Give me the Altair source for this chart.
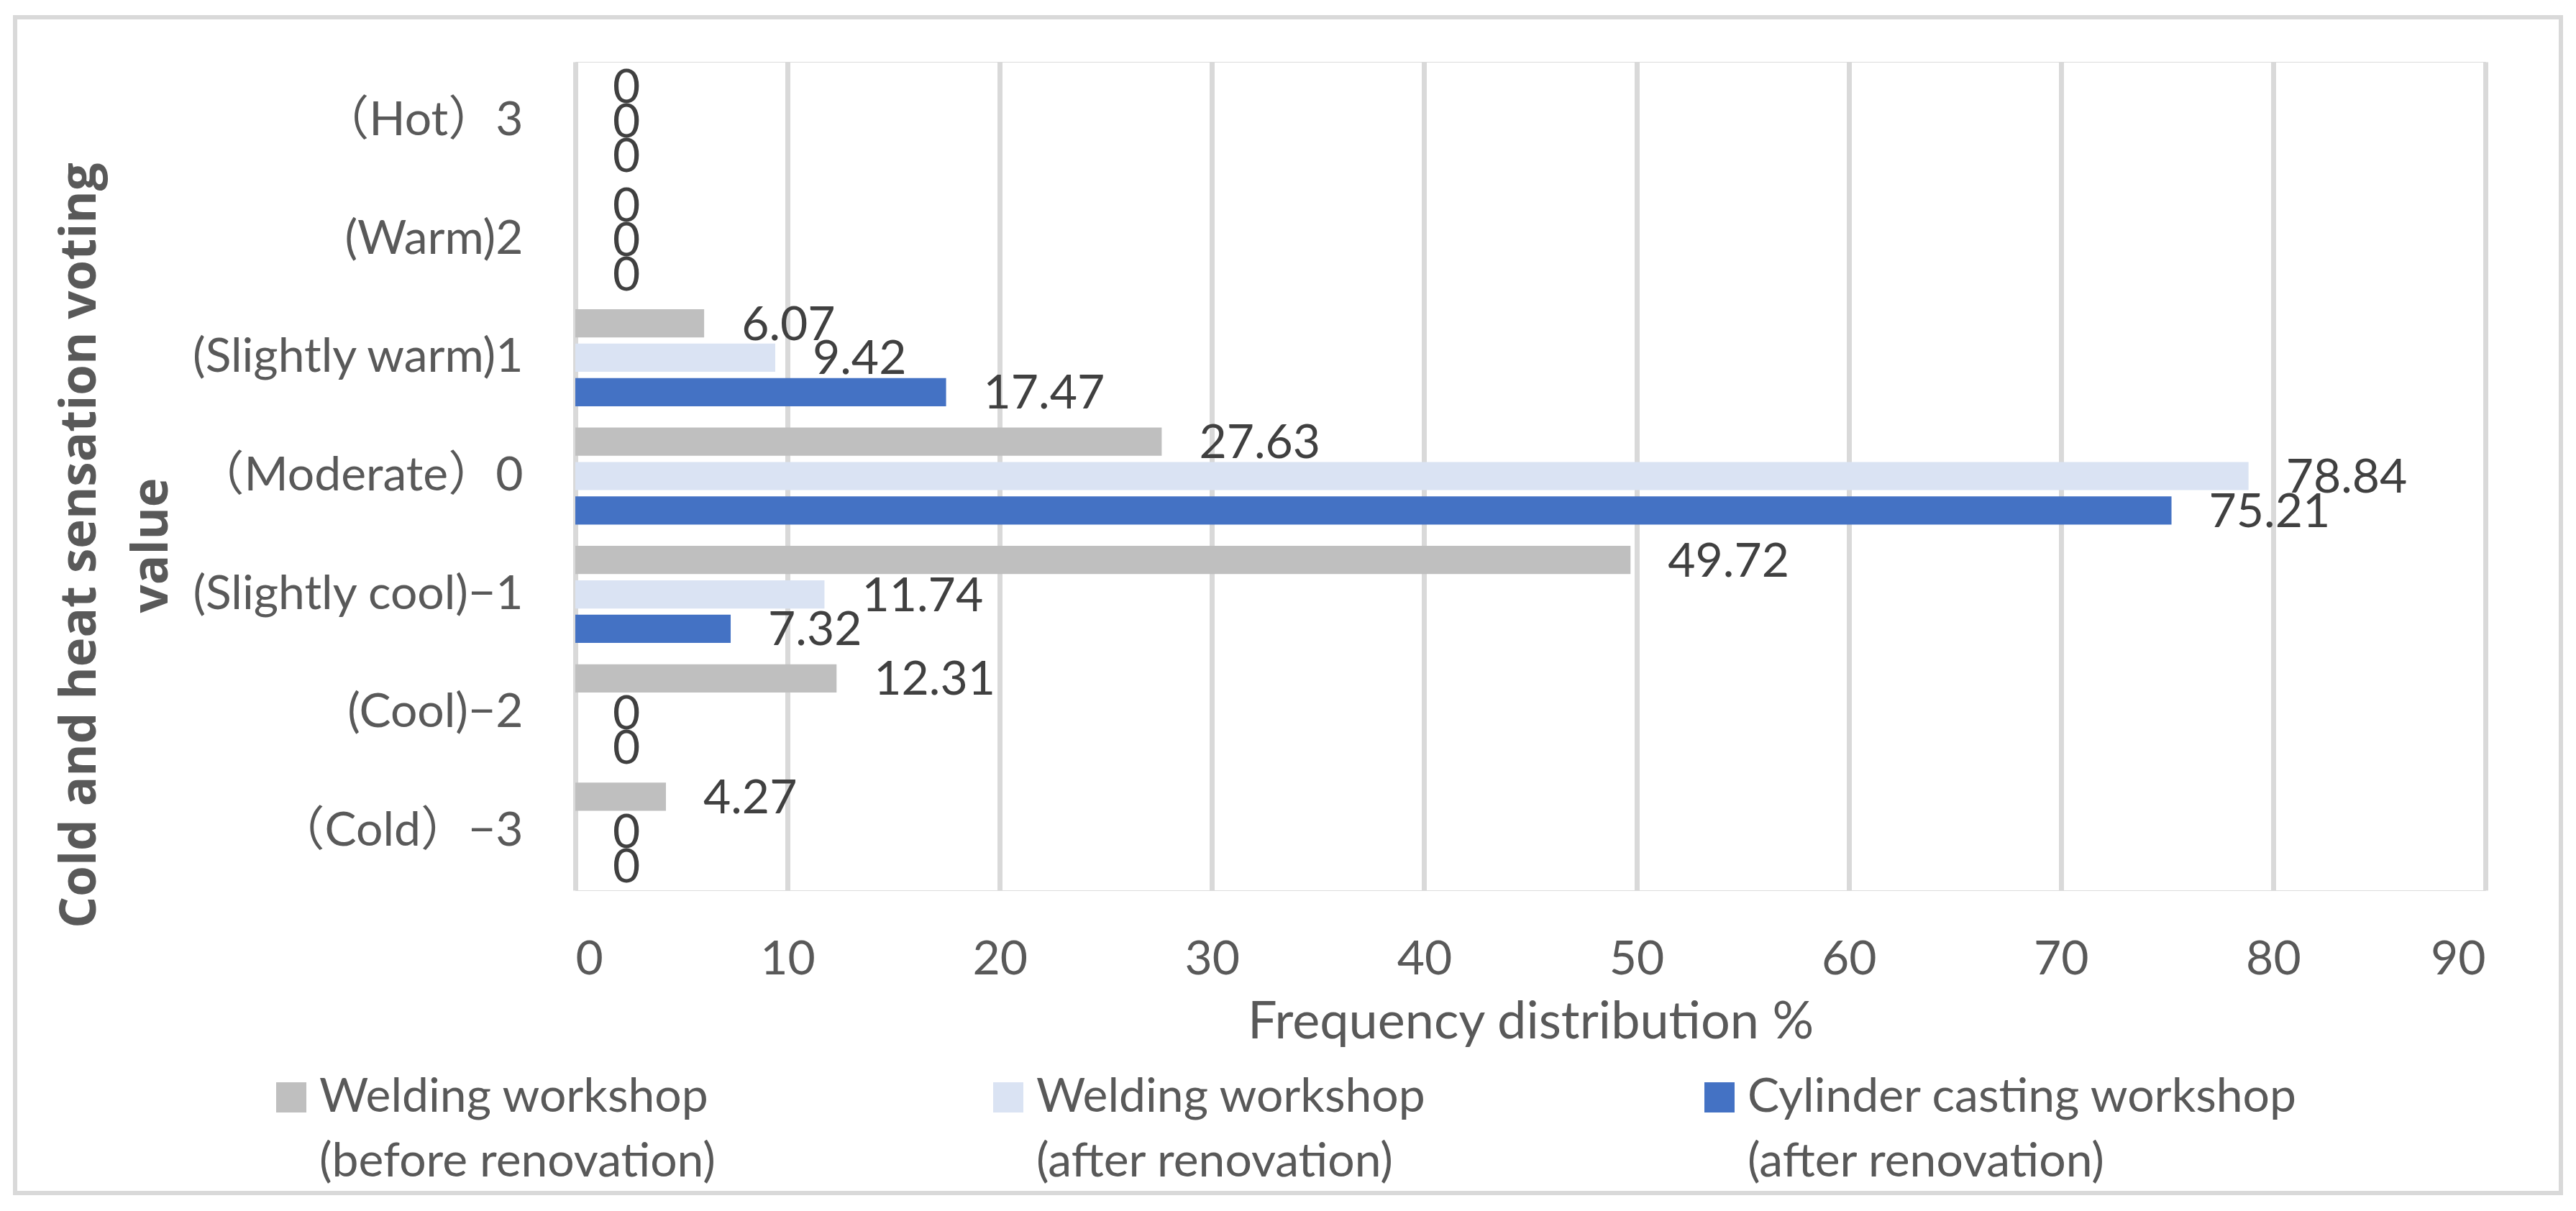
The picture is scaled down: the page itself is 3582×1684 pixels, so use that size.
import altair as alt
import pandas as pd

# ---- data ----
categories = ["（Hot）3", "(Warm)2", "(Slightly warm)1", "（Moderate）0",
              "(Slightly cool)−1", "(Cool)−2", "（Cold）−3"]
series = ["Welding workshop|(before renovation)",
          "Welding workshop|(after renovation)",
          "Cylinder casting workshop|(after renovation)"]
welding_before = [0, 0, 6.07, 27.63, 49.72, 12.31, 4.27]
welding_after = [0, 0, 9.42, 78.84, 11.74, 0, 0]
cylinder_after = [0, 0, 17.47, 75.21, 7.32, 0, 0]
x_ticks = [0, 10, 20, 30, 40, 50, 60, 70, 80, 90]
colors = ["#BFBFBF", "#DAE3F3", "#4472C4"]

rows = []
for s, vals in zip(series, [welding_before, welding_after, cylinder_after]):
    for c, v in zip(categories, vals):
        rows.append({"category": c, "series": s, "value": v})
df = pd.DataFrame(rows)

FONT = "Lato, Noto Sans CJK SC"
TFONT = "Open Sans"
W, H = 2656, 1152

y_enc = alt.Y("category:N", sort=categories,
              scale=alt.Scale(paddingInner=0.18, paddingOuter=0.09),
              axis=alt.Axis(title=["Cold and heat sensation voting", "value"],
                            titleFont=TFONT, titleFontSize=69, titleFontWeight="bold",
                            titleColor="#595959", titleAngle=-90,
                            titleBaseline="alphabetic", titleLineHeight=100,
                            titleX=-668, titleY=672, titleAlign="center",
                            labelFont=FONT, labelFontSize=66, labelColor="#595959",
                            labelLimit=3000,
                            labelPadding=73, ticks=False, domain=False, grid=False))
yoff = alt.YOffset("series:N", sort=series,
                   scale=alt.Scale(paddingInner=0.18, paddingOuter=0))

x_enc = alt.X("value:Q",
              scale=alt.Scale(domain=[0, 90], nice=False, zero=True),
              axis=alt.Axis(values=x_ticks, title="Frequency distribution %",
                            titleFont=FONT, titleFontSize=72, titleFontWeight="normal",
                            titleColor="#595959", titleBaseline="alphabetic",
                            titleY=205, titleX=W / 2,
                            labelFont=FONT, labelFontSize=66, labelColor="#595959",
                            labelBaseline="top", labelPadding=64,
                            ticks=False, domain=False,
                            grid=True, gridColor="#D9D9D9", gridWidth=7))

bars = alt.Chart(df).mark_bar().encode(
    x=x_enc, y=y_enc, yOffset=yoff,
    color=alt.Color("series:N", sort=series,
                    scale=alt.Scale(domain=series, range=colors),
                    legend=alt.Legend(title=None, orient="none", direction="horizontal",
                                      columns=3, legendX=-428, legendY=1407,
                                      gridAlign="none",
                                      symbolType="square", symbolSize=1764,
                                      symbolStrokeWidth=0, symbolOpacity=1,
                                      labelFont=FONT, labelFontSize=66,
                                      labelColor="#595959", labelLimit=2000,
                                      labelOffset=6, labelBaseline="middle",
                                      labelExpr="split(datum.label, '|')",
                                      columnPadding=374, padding=0)),
)

labels = alt.Chart(df).mark_text(
    align="left", baseline="middle", dx=52, dy=3,
    font=FONT, fontSize=66, color="#404040"
).encode(
    x="value:Q", y=alt.Y("category:N", sort=categories), yOffset=yoff,
    text=alt.Text("value:Q", format=".2~f"),
)

border = alt.Chart(pd.DataFrame({"a": [0]})).mark_rect(
    fill=None, stroke="#D9D9D9", strokeWidth=6
).encode(
    x=alt.value(-779), x2=alt.value(2761), y=alt.value(-62), y2=alt.value(1573)
)

chart = alt.layer(border, bars, labels).properties(
    width=W, height=H,
    autosize=alt.AutoSizeParams(type="none"),
    padding={"left": 792, "top": 78, "right": 118, "bottom": 438},
).configure_view(stroke=None).configure(
    background="white",
    style={"guide-label": {"lineHeight": 90}},
)

chart.save("out.html", embed_options={"renderer": "svg", "actions": False})
